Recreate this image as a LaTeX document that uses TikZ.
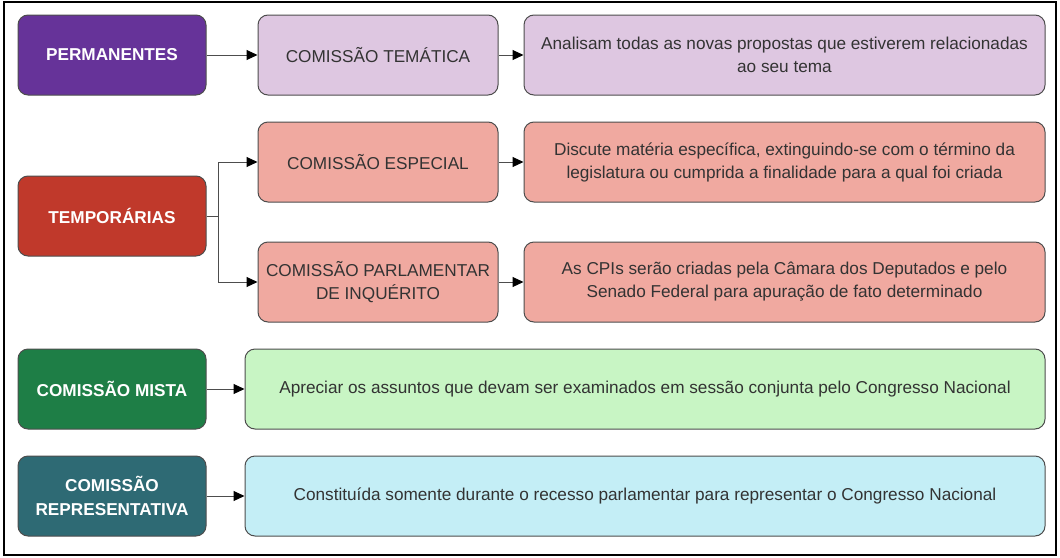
\documentclass[tikz,border=0pt]{standalone}
\usepackage{fontspec}
\setmainfont{Liberation Sans}
\usetikzlibrary{arrows.meta}

\definecolor{roxo}{HTML}{663399}
\definecolor{lilas}{HTML}{DEC7E1}
\definecolor{vermelho}{HTML}{C0392B}
\definecolor{salmao}{HTML}{F0A9A0}
\definecolor{verde}{HTML}{1E7E46}
\definecolor{verdeclaro}{HTML}{C8F5C4}
\definecolor{petroleo}{HTML}{2E6A74}
\definecolor{ciano}{HTML}{C4EEF6}
\definecolor{borda}{HTML}{4D4D4D}
\definecolor{texto}{HTML}{333333}

\begin{document}
\begin{tikzpicture}[x=1pt, y=-1pt,
    caixa/.style={draw=borda, line width=1pt, rounded corners=10pt, inner sep=0pt,
        minimum height=80pt, align=center, text=texto, font=\fontsize{17.2}{23}\selectfont},
    tipo/.style={caixa, minimum width=188pt, text=white, font=\bfseries\fontsize{17.2}{23.5}\selectfont},
    sub/.style={caixa, minimum width=240pt},
    desc/.style={caixa, minimum width=521pt},
    largo/.style={caixa, minimum width=800pt},
    seta/.style={draw=borda, line width=1pt, -{Triangle[length=11pt, width=10pt, color=black]}}]
    \useasboundingbox (0,0) rectangle (1060,557);
    \draw[line width=1.2pt] (4,2) rectangle (1056,555);

    % Permanentes
    \node[tipo, fill=roxo] (perm) at (112,55) {PERMANENTES};
    \node[sub, fill=lilas] (tematica) at (378,55) {COMISSÃO TEMÁTICA};
    \node[desc, fill=lilas] (dtematica) at (784.5,55) {Analisam todas as novas propostas que estiverem relacionadas\\ao seu tema};
    \draw[seta] (perm) -- (tematica);
    \draw[seta] (tematica) -- (dtematica);

    % Temporarias
    \node[tipo, fill=vermelho] (temp) at (112,216) {TEMPORÁRIAS};
    \node[sub, fill=salmao] (especial) at (378,162) {COMISSÃO ESPECIAL};
    \node[desc, fill=salmao] (despecial) at (784.5,162) {Discute matéria específica, extinguindo-se com o término da\\legislatura ou cumprida a finalidade para a qual foi criada};
    \node[sub, fill=salmao] (cpi) at (378,282) {COMISSÃO PARLAMENTAR\\DE INQUÉRITO};
    \node[desc, fill=salmao] (dcpi) at (784.5,282) {As CPIs serão criadas pela Câmara dos Deputados e pelo\\Senado Federal para apuração de fato determinado};
    \draw[seta] (temp.east) -- ++(12,0) |- (especial.west);
    \draw[seta] (temp.east) -- ++(12,0) |- (cpi.west);
    \draw[seta] (especial) -- (despecial);
    \draw[seta] (cpi) -- (dcpi);

    % Mista
    \node[tipo, fill=verde] (mista) at (112,389) {COMISSÃO MISTA};
    \node[largo, fill=verdeclaro] (dmista) at (645,389) {Apreciar os assuntos que devam ser examinados em sessão conjunta pelo Congresso Nacional};
    \draw[seta] (mista) -- (dmista);

    % Representativa
    \node[tipo, fill=petroleo] (repr) at (112,496) {COMISSÃO\\REPRESENTATIVA};
    \node[largo, fill=ciano] (drepr) at (645,496) {Constituída somente durante o recesso parlamentar para representar o Congresso Nacional};
    \draw[seta] (repr) -- (drepr);
\end{tikzpicture}
\end{document}
